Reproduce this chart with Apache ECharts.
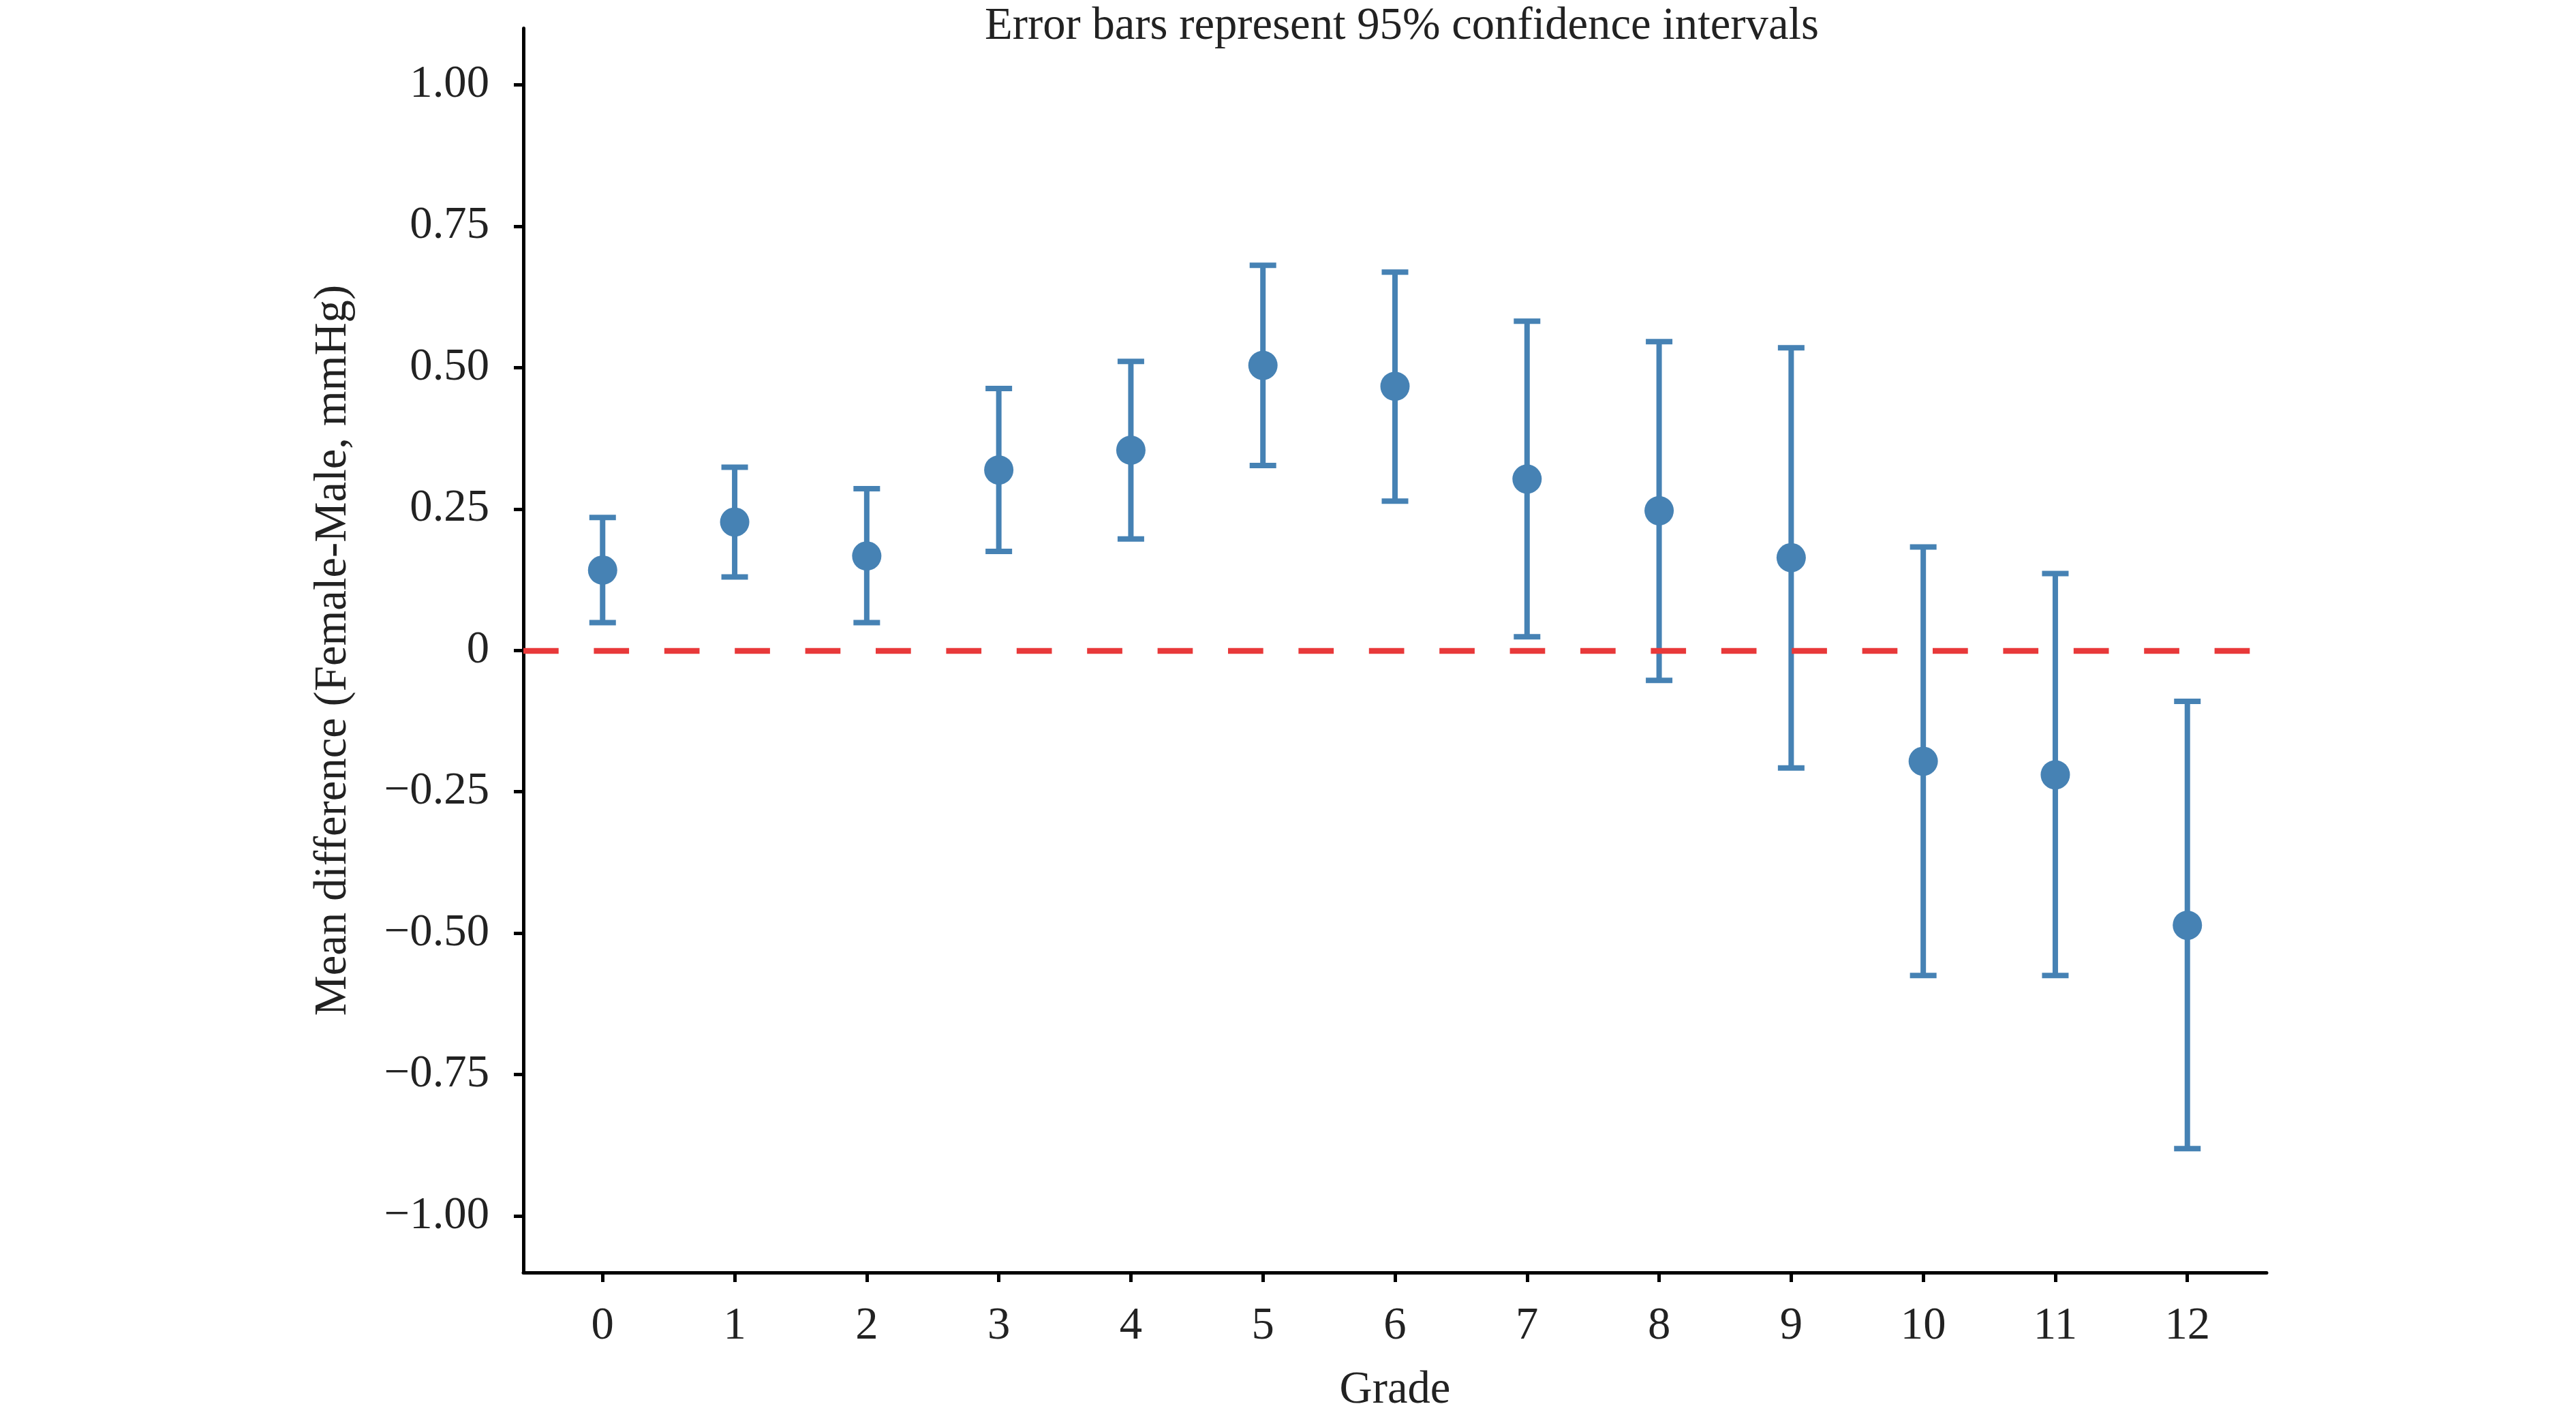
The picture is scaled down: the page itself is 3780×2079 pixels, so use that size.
<!DOCTYPE html>
<html>
<head>
<meta charset="utf-8">
<script src="https://cdn.jsdelivr.net/npm/echarts@6/dist/echarts.min.js"></script>
<style>
html,body{margin:0;padding:0;background:#ffffff;}
#chart{width:3780px;height:2079px;}
</style>
</head>
<body>
<div id="chart"></div>
<script>
// ---- data ----
const grades = [0, 1, 2, 3, 4, 5, 6, 7, 8, 9, 10, 11, 12];
const meanDiff = [0.142, 0.227, 0.167, 0.319, 0.354, 0.504, 0.467, 0.303, 0.247, 0.164, -0.196, -0.220, -0.486];
const ciLower  = [0.049, 0.130, 0.049, 0.175, 0.197, 0.327, 0.264, 0.024, -0.053, -0.208, -0.575, -0.575, -0.881];
const ciUpper  = [0.235, 0.324, 0.286, 0.463, 0.511, 0.681, 0.669, 0.582, 0.546, 0.535, 0.183, 0.136, -0.090];
const yTicks = [-1, -0.75, -0.5, -0.25, 0, 0.25, 0.5, 0.75, 1];
const titleText = 'Error bars represent 95% confidence intervals';
const xName = 'Grade';
const yName = 'Mean difference (Female-Male, mmHg)';

const FONT = '"Liberation Serif", "Times New Roman", serif';
const FS = 66.7;
const TXT = '#222222';
const BLUE = '#4682B4';
const RED = '#E8393A';

const chart = echarts.init(document.getElementById('chart'), null, {renderer: 'canvas'});

const fmtY = v => {
  if (Math.abs(v) < 1e-9) return '0';
  return (v < 0 ? '\u2212' : '') + Math.abs(v).toFixed(2);
};

const option = {
  backgroundColor: '#ffffff',
  animation: false,
  graphic: [{
    type: 'text',
    x: 2057,
    y: 6,
    style: {
      text: titleText,
      align: 'center',
      verticalAlign: 'top',
      font: FS + 'px ' + FONT,
      fill: TXT
    }
  }],
  grid: {left: 768, right: 454, top: 41.5, bottom: 209.5},
  xAxis: {
    type: 'value',
    min: -0.6,
    max: 12.6,
    axisLine: {show: true, onZero: false, lineStyle: {color: '#000', width: 5}},
    axisTick: {show: true, customValues: grades, length: 14, lineStyle: {color: '#000', width: 5}},
    axisLabel: {show: true, customValues: grades, margin: 46, fontSize: FS, fontFamily: FONT, color: TXT},
    splitLine: {show: false},
    name: xName,
    nameLocation: 'middle',
    nameGap: 140,
    nameTextStyle: {fontSize: FS, fontFamily: FONT, color: TXT}
  },
  yAxis: {
    type: 'value',
    min: -1.1,
    max: 1.1,
    axisLine: {show: true, onZero: false, lineStyle: {color: '#000', width: 5}},
    axisTick: {show: true, customValues: yTicks, length: 14, lineStyle: {color: '#000', width: 5}},
    axisLabel: {show: true, customValues: yTicks, margin: 50, fontSize: FS, fontFamily: FONT, color: TXT, formatter: fmtY},
    splitLine: {show: false},
    name: yName,
    nameLocation: 'middle',
    nameGap: 245,
    nameRotate: 90,
    nameTextStyle: {fontSize: FS, fontFamily: FONT, color: TXT}
  },
  series: [
    {
      type: 'custom',
      name: 'CI',
      z: 2,
      clip: false,
      encode: {x: 0, y: [1, 2]},
      data: grades.map((g, i) => [g, ciLower[i], ciUpper[i]]),
      renderItem: function (params, api) {
        const x = api.value(0);
        const lo = api.coord([x, api.value(1)]);
        const hi = api.coord([x, api.value(2)]);
        const cap = 19.5;
        const st = {stroke: BLUE, lineWidth: 8, fill: null, lineCap: 'butt'};
        return {
          type: 'group',
          children: [
            {type: 'line', shape: {x1: lo[0], y1: lo[1], x2: hi[0], y2: hi[1]}, style: st},
            {type: 'line', shape: {x1: lo[0] - cap, y1: lo[1], x2: lo[0] + cap, y2: lo[1]}, style: st},
            {type: 'line', shape: {x1: hi[0] - cap, y1: hi[1], x2: hi[0] + cap, y2: hi[1]}, style: st}
          ]
        };
      },
      markLine: {
        silent: true,
        symbol: ['none', 'none'],
        label: {show: false},
        lineStyle: {color: RED, width: 8.3, type: [51.7, 51.7], dashOffset: 0},
        data: [{yAxis: 0}]
      }
    },
    {
      type: 'scatter',
      name: 'Mean',
      z: 3,
      symbol: 'circle',
      symbolSize: 43,
      itemStyle: {color: BLUE, opacity: 1},
      data: grades.map((g, i) => [g, meanDiff[i]])
    }
  ]
};

chart.setOption(option);
</script>
</body>
</html>
